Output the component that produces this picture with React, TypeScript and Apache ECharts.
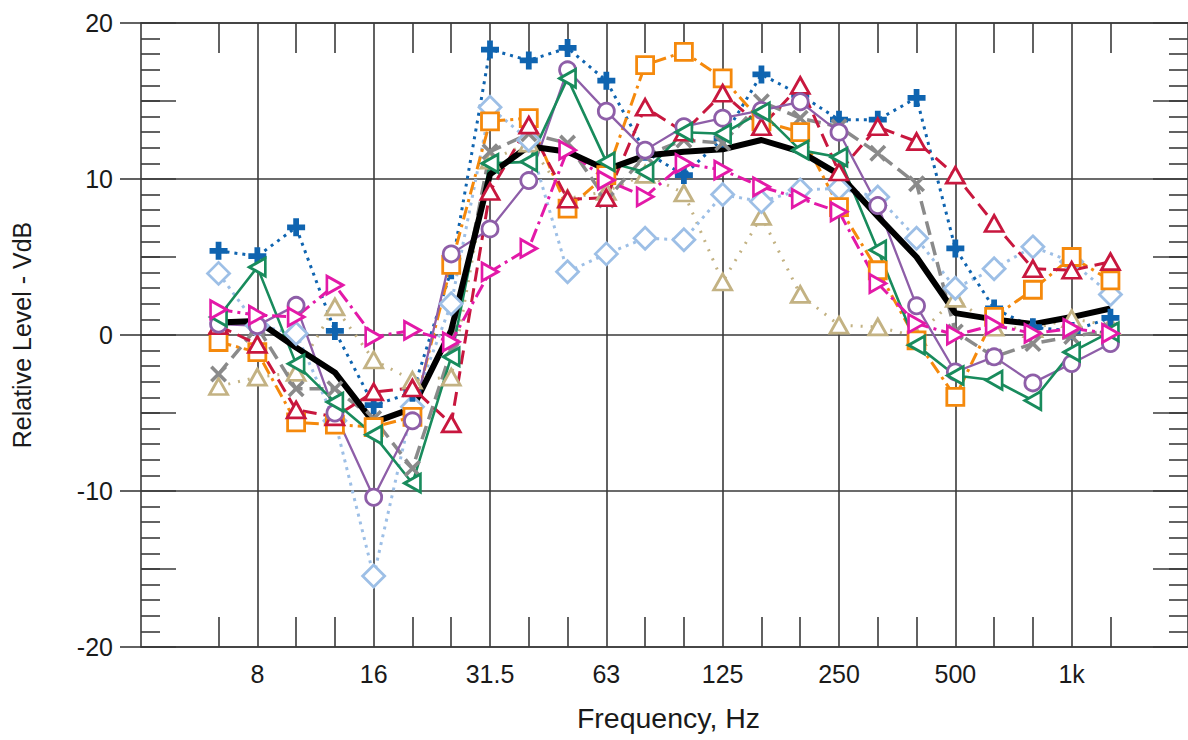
import React, { useEffect, useRef } from 'react';
import * as echarts from 'echarts';

// Third-octave axis positions (4 Hz .. 2 kHz); data bands are 6.3 Hz .. 1.25 kHz
const axisCategories = ['4', '5', '6.3', '8', '10', '12.5', '16', '20', '25', '31.5', '40', '50', '63', '80', '100', '125', '160', '200', '250', '315', '400', '500', '630', '800', '1k', '1.25k', '1.6k', '2k'];
const bandLabels = ['6.3', '8', '10', '12.5', '16', '20', '25', '31.5', '40', '50', '63', '80', '100', '125', '160', '200', '250', '315', '400', '500', '630', '800', '1k', '1.25k'];
const octaveLabels = ['8', '16', '31.5', '63', '125', '250', '500', '1k'];

const yMin = -20;
const yMax = 20;
const yStep = 10;

// Relative level, VdB, per band (6.3 Hz .. 1.25 kHz)
const averageLevel = [0.8, 0.9, -0.8, -2.4, -5.6, -4.7, 0.3, 10.3, 12.1, 11.75, 10.6, 11.5, 11.75, 11.9, 12.5, 11.75, 10.3, 7.6, 5.0, 1.4, 1.0, 0.7, 1.15, 1.7];
const bluePlus = [5.4, 5.05, 6.9, 0.26, -4.5, -3.7, 4.15, 18.3, 17.6, 18.4, 16.3, 11.75, 10.25, 12.6, 16.7, 15.4, 13.8, 13.8, 15.2, 5.55, 1.7, 0.5, 0.25, 1.1];
const lightBlueDiamond = [3.95, 0.6, 0.1, -5.5, -15.45, -4.6, 2.0, 14.6, 12.5, 4.05, 5.2, 6.2, 6.1, 9.0, 8.55, 9.3, 9.4, 8.85, 6.2, 3.0, 4.25, 5.65, 4.7, 2.6];
const orangeSquare = [-0.45, -1.1, -5.6, -5.75, -5.9, -5.25, 4.5, 13.7, 13.9, 8.1, 10.25, 17.3, 18.15, 16.45, 13.7, 13.0, 8.2, 4.15, -0.35, -3.97, 1.16, 2.9, 5.0, 3.5];
const crimsonTriangle = [0.6, -0.6, -4.8, -5.25, -3.65, -3.4, -5.7, 9.2, 13.45, 8.7, 8.8, 14.6, 13.0, 15.5, 13.35, 16.0, 10.45, 13.35, 12.4, 10.25, 7.15, 4.25, 4.15, 4.7];
const purpleCircle = [0.7, 0.6, 1.9, -5.0, -10.4, -5.5, 5.2, 6.8, 9.9, 17.0, 14.35, 11.85, 13.35, 13.9, 14.4, 14.95, 13.0, 8.3, 1.87, -2.37, -1.4, -3.07, -1.83, -0.55];
const greenLeftTriangle = [1.15, 4.35, -1.85, -4.3, -6.4, -9.5, -1.4, 11.0, 11.1, 16.45, 11.1, 10.45, 13.0, 12.9, 14.3, 11.85, 11.4, 5.45, -0.65, -2.6, -2.9, -4.2, -1.1, 0.2];
const greyCross = [-2.5, 0.5, -3.45, -3.45, -5.35, -8.55, -1.0, 11.75, 12.9, 12.3, 8.65, 11.5, 12.5, 12.3, 14.95, 13.9, 13.35, 11.65, 9.7, 0.2, -1.4, -0.55, -0.1, 0.3];
const tanTriangle = [-3.3, -2.7, -2.4, 1.8, -1.6, -2.9, -2.7, 11.2, 12.3, 8.75, 9.2, 10.3, 9.1, 3.4, 7.6, 2.6, 0.63, 0.52, -0.1, 2.35, 0.5, 0.4, 1.05, 0.6];
const magentaRightTriangle = [1.63, 1.27, 1.16, 3.2, -0.12, 0.3, -0.44, 4.05, 5.55, 11.85, 9.93, 8.86, 11.0, 10.57, 9.5, 8.75, 7.9, 3.3, 0.74, 0.0, 0.63, 0.1, 0.42, 0.1];

const PLUS = 'path://M3.4,0H6.6V3.4H10V6.6H6.6V10H3.4V6.6H0V3.4H3.4Z';
const CROSS = 'path://M0,1.5L1.5,0L5,3.5L8.5,0L10,1.5L6.5,5L10,8.5L8.5,10L5,6.5L1.5,10L0,8.5L3.5,5Z';

const GRID_COLOR = '#3a3a3a';
const TEXT_COLOR = '#1a1a1a';
const FONT = 'Liberation Sans, Arial, sans-serif';

type Spec = {
  name: string;
  values: number[];
  color: string;
  symbol: string;
  size: number | number[];
  rotate?: number;
  dash: any;
  width: number;
  filled?: boolean;
};

const specs: Spec[] = [
  { name: 'tan', values: tanTriangle, color: '#c3b283', symbol: 'triangle', size: [18, 16], dash: [2, 8], width: 3 },
  { name: 'lightblue', values: lightBlueDiamond, color: '#9dbfe6', symbol: 'diamond', size: 22, dash: [3, 5], width: 3 },
  { name: 'blue', values: bluePlus, color: '#0f64b0', symbol: PLUS, size: 18, dash: [3, 5], width: 3, filled: true },
  { name: 'grey', values: greyCross, color: '#8a8a8a', symbol: CROSS, size: 17, dash: [14, 7], width: 3.5, filled: true },
  { name: 'orange', values: orangeSquare, color: '#f5890c', symbol: 'rect', size: 17, dash: [13, 5, 3, 5], width: 3 },
  { name: 'crimson', values: crimsonTriangle, color: '#c8173e', symbol: 'triangle', size: [18, 16], dash: [14, 7], width: 3 },
  { name: 'purple', values: purpleCircle, color: '#8e5ea8', symbol: 'circle', size: 16, dash: 'solid', width: 2.3 },
  { name: 'green', values: greenLeftTriangle, color: '#188b5c', symbol: 'triangle', size: [18, 16], rotate: 90, dash: 'solid', width: 2.6 },
  { name: 'magenta', values: magentaRightTriangle, color: '#e319a8', symbol: 'triangle', size: [18, 16], rotate: -90, dash: [14, 5, 3, 5], width: 3 },
];

const bandIndex = (label: string) => axisCategories.indexOf(label);
const toPoints = (values: number[]) => values.map((v, i) => [bandIndex(bandLabels[i]), v]);

const isOctave = (_i: number, v: string) => octaveLabels.includes(v);
const isThirdTick = (_i: number, v: string) => bandLabels.includes(v) && !octaveLabels.includes(v);

export default function App() {
  const ref = useRef<HTMLDivElement>(null);

  useEffect(() => {
    if (!ref.current) return;
    const chart = echarts.init(ref.current, undefined, { renderer: 'svg' });

    const lineSeries: any[] = specs.map((s) => ({
      name: s.name,
      type: 'line',
      xAxisIndex: 0,
      yAxisIndex: 0,
      data: toPoints(s.values),
      symbol: s.symbol,
      symbolSize: s.size,
      symbolRotate: s.rotate || 0,
      showAllSymbol: true,
      lineStyle: { color: s.color, width: s.width, type: s.dash, cap: 'butt' },
      itemStyle: s.filled
        ? { color: s.color, borderWidth: 0 }
        : { color: '#ffffff', borderColor: s.color, borderWidth: 2.8 },
      emphasis: { disabled: true },
    }));

    lineSeries.push({
      name: 'average',
      type: 'line',
      xAxisIndex: 0,
      yAxisIndex: 0,
      data: toPoints(averageLevel),
      symbol: 'none',
      lineStyle: { color: '#000000', width: 6, type: 'solid', join: 'round' },
      emphasis: { disabled: true },
    });

    const baseCat = {
      type: 'category',
      data: axisCategories,
      boundaryGap: false,
    };

    const line = { show: true, onZero: false, lineStyle: { color: GRID_COLOR, width: 1.6 } };

    const option: any = {
      animation: false,
      textStyle: { fontFamily: FONT },
      grid: { left: 141, right: -6, top: 23, bottom: 93, containLabel: false },
      xAxis: [
        {
          ...baseCat,
          position: 'bottom',
          name: 'Frequency, Hz',
          nameLocation: 'middle',
          nameGap: 56,
          nameTextStyle: { fontSize: 28.5, color: TEXT_COLOR, fontFamily: FONT, padding: [0, 0, 0, 8] },
          axisLine: line,
          axisTick: { show: true, inside: true, length: 30, interval: isThirdTick, lineStyle: { color: GRID_COLOR, width: 1.6 } },
          axisLabel: { show: true, interval: isOctave, fontSize: 25, color: TEXT_COLOR, margin: 14, fontFamily: FONT },
          splitLine: { show: true, interval: isOctave, lineStyle: { color: GRID_COLOR, width: 1.6 } },
        },
        {
          ...baseCat,
          position: 'top',
          axisLine: line,
          axisTick: { show: true, inside: true, length: 30, interval: isThirdTick, lineStyle: { color: GRID_COLOR, width: 1.6 } },
          axisLabel: { show: false },
          splitLine: { show: false },
        },
      ],
      yAxis: [
        {
          type: 'value',
          position: 'left',
          min: yMin,
          max: yMax,
          interval: yStep,
          name: 'Relative Level - VdB',
          nameLocation: 'middle',
          nameGap: 107,
          nameRotate: 90,
          nameTextStyle: { fontSize: 25, color: TEXT_COLOR, fontFamily: FONT },
          axisLine: line,
          axisTick: { show: true, inside: false, length: 21, lineStyle: { color: GRID_COLOR, width: 1.6 } },
          axisLabel: { show: true, fontSize: 25, color: TEXT_COLOR, margin: 28, fontFamily: FONT },
          splitLine: { show: true, lineStyle: { color: GRID_COLOR, width: 1.6 } },
        },
        {
          type: 'value',
          position: 'left',
          min: yMin,
          max: yMax,
          interval: yStep,
          axisLine: { show: false, onZero: false },
          axisTick: { show: false, inside: true },
          minorTick: { show: true, splitNumber: 10, length: 19, lineStyle: { color: GRID_COLOR, width: 1.6 } },
          axisLabel: { show: false },
          splitLine: { show: false },
        },
        {
          type: 'value',
          position: 'left',
          min: yMin,
          max: yMax,
          interval: yStep / 2,
          axisLine: { show: false, onZero: false },
          axisTick: { show: true, inside: true, length: 35, lineStyle: { color: GRID_COLOR, width: 1.6 } },
          axisLabel: { show: false },
          splitLine: { show: false },
        },
        {
          type: 'value',
          position: 'right',
          min: yMin,
          max: yMax,
          interval: yStep,
          axisLine: line,
          axisTick: { show: false, inside: true },
          minorTick: { show: true, splitNumber: 10, length: 19, lineStyle: { color: GRID_COLOR, width: 1.6 } },
          axisLabel: { show: false },
          splitLine: { show: false },
        },
        {
          type: 'value',
          position: 'right',
          min: yMin,
          max: yMax,
          interval: yStep / 2,
          axisLine: { show: false, onZero: false },
          axisTick: { show: true, inside: true, length: 35, lineStyle: { color: GRID_COLOR, width: 1.6 } },
          axisLabel: { show: false },
          splitLine: { show: false },
        },
      ],
      series: lineSeries,
    };

    chart.setOption(option);
    return () => chart.dispose();
  }, []);

  return (
    <div
      ref={ref}
      style={{ position: 'fixed', left: 0, top: 0, width: 1188, height: 740, background: '#ffffff' }}
    />
  );
}
